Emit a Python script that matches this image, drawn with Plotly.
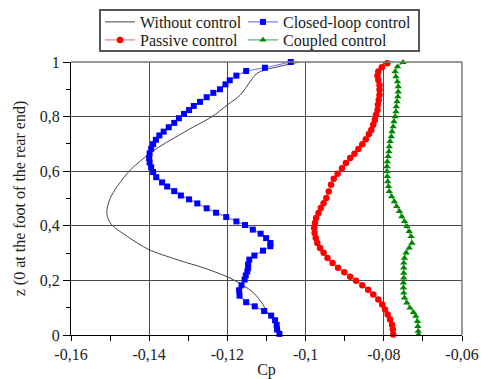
import plotly.graph_objects as go

# ---------------- data ----------------
# Without control (smooth black line)
z_without = [1.0, 0.965, 0.952, 0.928, 0.879, 0.843, 0.800, 0.763, 0.721, 0.684, 0.638, 0.605,
             0.544, 0.500, 0.459, 0.434, 0.404, 0.361, 0.313, 0.276, 0.246, 0.213, 0.185, 0.154,
             0.118, 0.081, 0.045, 0.020, 0.0]
cp_without = [-0.1015, -0.1116, -0.1129, -0.1142, -0.1167, -0.1200, -0.1239, -0.1286, -0.1337,
              -0.1380, -0.1422, -0.1448, -0.1482, -0.1500, -0.1508, -0.1507, -0.1496, -0.1456,
              -0.1401, -0.1329, -0.1261, -0.1200, -0.1163, -0.1133, -0.1112, -0.1097, -0.1078,
              -0.1066, -0.1063]

# Closed-loop control (blue squares)
z_closed = [1.0, 0.979, 0.967, 0.950, 0.933, 0.918, 0.900, 0.887, 0.871, 0.854, 0.839, 0.824,
            0.810, 0.794, 0.777, 0.761, 0.745, 0.731, 0.715, 0.699, 0.682, 0.665, 0.648, 0.632,
            0.614, 0.597, 0.578, 0.559, 0.544, 0.527, 0.511, 0.497, 0.482, 0.464, 0.448, 0.432,
            0.416, 0.403, 0.386, 0.371, 0.355, 0.337, 0.325, 0.309, 0.291, 0.276, 0.258, 0.246,
            0.233, 0.218, 0.203, 0.182, 0.164, 0.144, 0.120, 0.105, 0.088, 0.071, 0.054, 0.037,
            0.020, 0.004]
cp_closed = [-0.1038, -0.1104, -0.1152, -0.1177, -0.1194, -0.1205, -0.1219, -0.1236, -0.1253,
             -0.1270, -0.1286, -0.1298, -0.1311, -0.1324, -0.1336, -0.1350, -0.1363, -0.1374,
             -0.1383, -0.1390, -0.1395, -0.1399, -0.1400, -0.1399, -0.1395, -0.1390, -0.1382,
             -0.1367, -0.1354, -0.1336, -0.1319, -0.1298, -0.1277, -0.1253, -0.1229, -0.1203,
             -0.1177, -0.1155, -0.1135, -0.1115, -0.1101, -0.1090, -0.1090, -0.1109, -0.1131,
             -0.1144, -0.1147, -0.1147, -0.1149, -0.1153, -0.1156, -0.1164, -0.1170, -0.1169,
             -0.1152, -0.1130, -0.1106, -0.1088, -0.1078, -0.1074, -0.1073, -0.1067]

# Passive control (red circles)
z_passive = [0.995, 0.981, 0.965, 0.950, 0.934, 0.916, 0.898, 0.879, 0.861, 0.843, 0.824, 0.806,
             0.788, 0.770, 0.751, 0.736, 0.717, 0.699, 0.681, 0.664, 0.648, 0.630, 0.611, 0.591,
             0.572, 0.550, 0.526, 0.502, 0.483, 0.465, 0.447, 0.429, 0.410, 0.392, 0.374, 0.355,
             0.337, 0.319, 0.301, 0.282, 0.264, 0.246, 0.230, 0.213, 0.199, 0.182, 0.166, 0.148,
             0.130, 0.112, 0.093, 0.075, 0.057, 0.038, 0.020, 0.002]
cp_passive = [-0.0791, -0.0805, -0.0814, -0.0816, -0.0814, -0.0811, -0.0811, -0.0811, -0.0813,
              -0.0815, -0.0816, -0.0820, -0.0823, -0.0827, -0.0832, -0.0838, -0.0846, -0.0855,
              -0.0865, -0.0875, -0.0886, -0.0897, -0.0907, -0.0918, -0.0928, -0.0935, -0.0941,
              -0.0947, -0.0954, -0.0961, -0.0967, -0.0973, -0.0976, -0.0978, -0.0977, -0.0974,
              -0.0970, -0.0963, -0.0954, -0.0944, -0.0931, -0.0917, -0.0901, -0.0886, -0.0871,
              -0.0855, -0.0840, -0.0827, -0.0814, -0.0804, -0.0797, -0.0790, -0.0784, -0.0779,
              -0.0777, -0.0776]

# Coupled control (green triangles)
z_coupled = [0.999, 0.983, 0.965, 0.946, 0.928, 0.910, 0.891, 0.873, 0.855, 0.837, 0.818, 0.800,
             0.782, 0.763, 0.745, 0.727, 0.709, 0.690, 0.672, 0.654, 0.635, 0.617, 0.599, 0.581,
             0.562, 0.544, 0.526, 0.507, 0.489, 0.471, 0.453, 0.434, 0.416, 0.398, 0.380, 0.361,
             0.337, 0.319, 0.301, 0.282, 0.264, 0.246, 0.227, 0.209, 0.191, 0.173, 0.154, 0.136,
             0.118, 0.099, 0.083, 0.069, 0.050, 0.032, 0.014, 0.002]
cp_coupled = [-0.0751, -0.0765, -0.0771, -0.0769, -0.0765, -0.0763, -0.0763, -0.0764, -0.0766,
              -0.0768, -0.0769, -0.0771, -0.0774, -0.0776, -0.0779, -0.0781, -0.0784, -0.0786,
              -0.0787, -0.0789, -0.0791, -0.0792, -0.0792, -0.0791, -0.0790, -0.0788, -0.0786,
              -0.0780, -0.0773, -0.0767, -0.0760, -0.0754, -0.0747, -0.0741, -0.0735, -0.0730,
              -0.0728, -0.0735, -0.0743, -0.0747, -0.0749, -0.0749, -0.0749, -0.0749, -0.0750,
              -0.0750, -0.0749, -0.0747, -0.0741, -0.0733, -0.0724, -0.0718, -0.0714, -0.0713,
              -0.0712, -0.0711]

x_tickvals = [-0.16, -0.14, -0.12, -0.10, -0.08, -0.06]
x_ticktext = ["-0,16", "-0,14", "-0,12", "-0,1", "-0,08", "-0,06"]
y_tickvals = [0, 0.2, 0.4, 0.6, 0.8, 1.0]
y_ticktext = ["0", "0,2", "0,4", "0,6", "0,8", "1"]

FONT = "Liberation Serif"

fig = go.Figure()
fig.add_trace(go.Scatter(x=cp_without, y=z_without, mode="lines", name="Without control",
                         line=dict(color="#444444", width=1, shape="spline", smoothing=0.8),
                         legend="legend"))
fig.add_trace(go.Scatter(x=cp_closed, y=z_closed, mode="lines+markers", name="Closed-loop control",
                         line=dict(color="rgba(70,70,255,0.75)", width=1.2),
                         marker=dict(symbol="square", size=6, color="#0000ff"),
                         cliponaxis=False, legend="legend2"))
fig.add_trace(go.Scatter(x=cp_passive, y=z_passive, mode="lines+markers", name="Passive control",
                         line=dict(color="rgba(255,80,80,0.75)", width=1.2),
                         marker=dict(symbol="circle", size=6.5, color="#ff0000"),
                         cliponaxis=False, legend="legend3"))
fig.add_trace(go.Scatter(x=cp_coupled, y=z_coupled, mode="lines+markers", name="Coupled control",
                         line=dict(color="rgba(40,150,40,0.75)", width=1.2),
                         marker=dict(symbol="triangle-up", size=6.5, color="#008800"),
                         cliponaxis=False, legend="legend4"))

L, R, T, B = 71, 22, 62, 44
W, H = 484, 379
pw, ph = W - L - R, H - T - B


def px_x(p):
    return (p - L) / pw


def px_y(p):
    return (H - B - p) / ph


legend_common = dict(orientation="h", xanchor="left", yanchor="middle",
                     bgcolor="rgba(0,0,0,0)", borderwidth=0,
                     font=dict(family=FONT, size=16, color="#1a1a1a"), itemwidth=30)

fig.update_layout(
    width=W, height=H,
    margin=dict(l=L, r=R, t=T, b=B, autoexpand=False),
    paper_bgcolor="white", plot_bgcolor="white",
    font=dict(family=FONT, size=16, color="#222222"),
    showlegend=True,
    legend=dict(legend_common, x=px_x(100), y=px_y(22)),
    legend2=dict(legend_common, x=px_x(243), y=px_y(22)),
    legend3=dict(legend_common, x=px_x(100), y=px_y(40)),
    legend4=dict(legend_common, x=px_x(243), y=px_y(40)),
    xaxis=dict(range=[-0.16, -0.06], tickmode="array", tickvals=x_tickvals, ticktext=x_ticktext,
               showgrid=True, gridcolor="#4a4a4a", gridwidth=1, zeroline=False,
               showline=True, linecolor="black", linewidth=1,
               ticks="outside", ticklen=5, tickcolor="black",
               minor=dict(dtick=0.01, tick0=-0.16, ticks="outside", ticklen=5,
                          tickcolor="black", showgrid=False),
               title=dict(text="Cp", standoff=6, font=dict(family=FONT, size=16)),
               fixedrange=True),
    yaxis=dict(range=[0, 1], tickmode="array", tickvals=y_tickvals, ticktext=y_ticktext,
               showgrid=True, gridcolor="#4a4a4a", gridwidth=1, zeroline=False,
               showline=True, linecolor="black", linewidth=1,
               ticks="outside", ticklen=7, tickcolor="black",
               minor=dict(dtick=0.1, tick0=0, ticks="outside", ticklen=4,
                          tickcolor="black", showgrid=False),
               title=dict(text="z (0 at the foot of the rear end)", standoff=10,
                          font=dict(family=FONT, size=16)),
               fixedrange=True),
    shapes=[
        # top and right frame lines (gray)
        dict(type="line", xref="paper", yref="paper", x0=0, x1=1, y0=1, y1=1,
             line=dict(color="#777777", width=1.5)),
        dict(type="line", xref="paper", yref="paper", x0=1, x1=1, y0=0, y1=1,
             line=dict(color="#777777", width=1.5)),
        # legend frame
        dict(type="rect", xref="paper", yref="paper",
             x0=px_x(100), x1=px_x(419), y0=px_y(51), y1=px_y(10),
             line=dict(color="#555555", width=2)),
    ],
)

fig.write_html("out.html", config={"displayModeBar": False},
               post_script="document.body.style.margin='0';document.body.style.padding='0';")
